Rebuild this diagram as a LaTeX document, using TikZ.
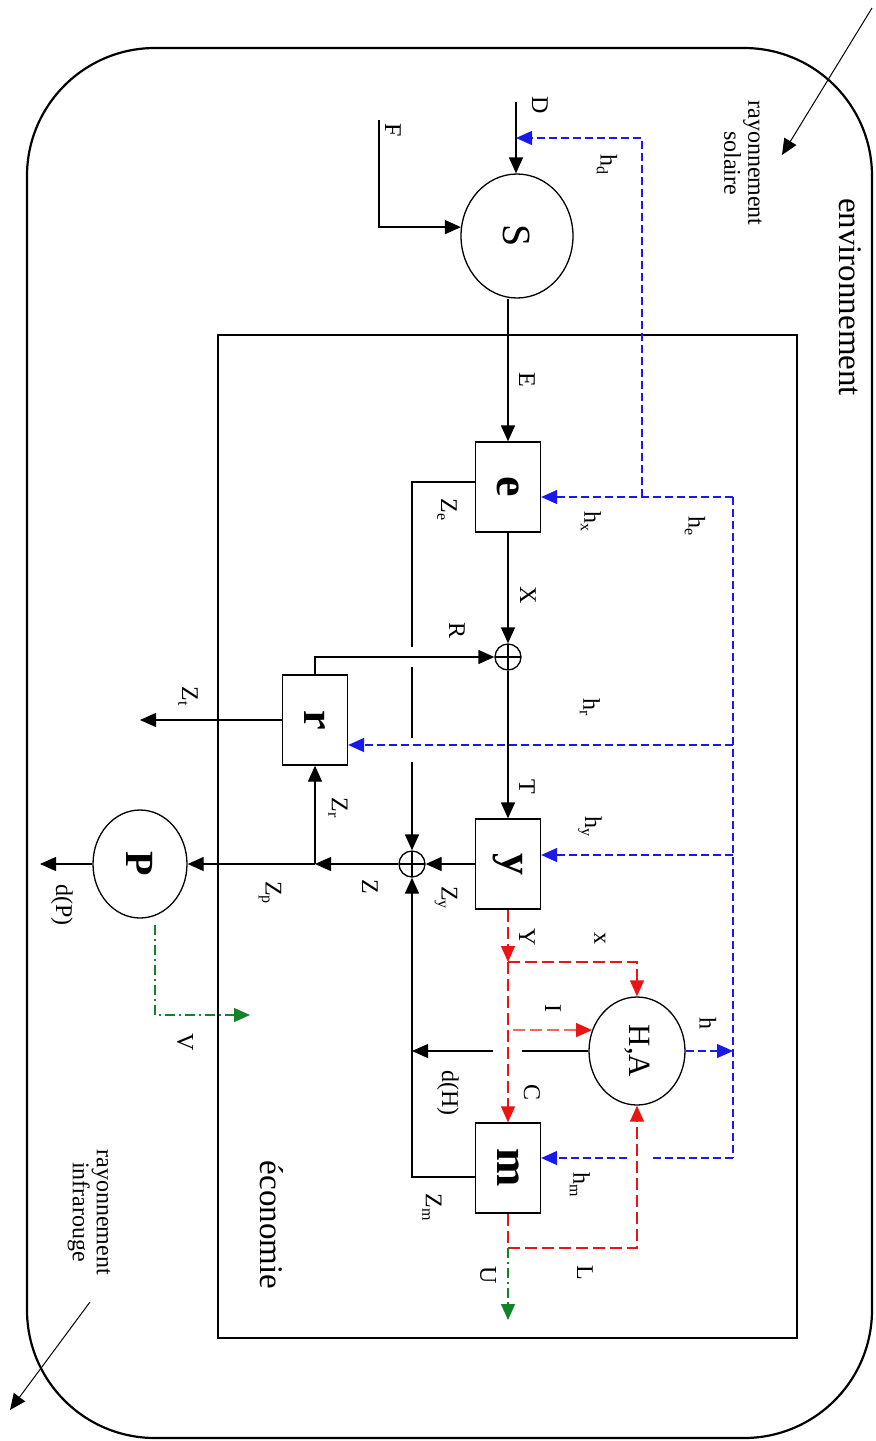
\documentclass[tikz,border=0pt]{standalone}
\usepackage{fontspec}
\setmainfont{Liberation Serif}
\usetikzlibrary{arrows.meta,shapes.geometric,calc}
\definecolor{fbblue}{RGB}{25,25,235}
\definecolor{fbred}{RGB}{235,20,20}
\definecolor{fbgreen}{RGB}{20,130,40}
\begin{document}
\begin{tikzpicture}[x=0.5pt,y=-0.5pt,
 tip/.style={-{Triangle[length=8pt,width=7pt]}},
 plain/.style={line width=0.65pt, black},
 flow/.style={plain, tip},
 fb/.style={fbblue, line width=0.65pt, dash pattern=on 4pt off 2pt},
 fbarr/.style={fb, tip},
 rd/.style={fbred, line width=0.65pt, dash pattern=on 6pt off 2.5pt},
 rdarr/.style={rd, tip},
 gr/.style={fbgreen, line width=0.65pt, dash pattern=on 5pt off 2pt on 1pt off 2pt},
 grarr/.style={gr, tip},
 box/.style={draw, line width=0.65pt, minimum width=32.5pt, minimum height=45pt, inner sep=0pt},
 circ/.style={draw, ellipse, line width=0.65pt, inner sep=0pt},
 sum/.style={draw, circle, line width=0.65pt, minimum size=13pt, inner sep=0pt,
   path picture={\draw[line width=0.65pt] (path picture bounding box.north) -- (path picture bounding box.south)
     (path picture bounding box.west) -- (path picture bounding box.east);}},
 lbl/.style={rotate=-90, font=\fontsize{12}{13}\selectfont, inner sep=0pt},
 title/.style={rotate=-90, font=\fontsize{16.5}{18}\selectfont, inner sep=0pt},
 note/.style={rotate=-90, font=\fontsize{12}{12}\selectfont, align=center, inner sep=0pt},
]
\useasboundingbox (0,0) rectangle (875,1441);
% frames
\draw[line width=1.1pt, rounded corners=64pt] (27,48) rectangle (872,1438);
\draw[line width=0.8pt] (218,335) rectangle (797,1338);
% nodes
\node[circ, minimum width=56pt, minimum height=62pt] (S) at (517,236) {\rotatebox{-90}{\fontsize{20}{22}\selectfont S}};
\node[box] (e) at (508,487) {\rotatebox{-90}{\fontsize{23}{24}\selectfont\bfseries e}};
\node[sum] (s1) at (508,657) {};
\node[box] (r) at (315,720) {\rotatebox{-90}{\fontsize{22}{24}\selectfont\bfseries r}};
\node[box] (y) at (508,864) {\rotatebox{-90}{\fontsize{22}{24}\selectfont\bfseries y}};
\node[sum] (s2) at (412,864) {};
\node[box] (m) at (508,1168) {\rotatebox{-90}{\fontsize{23}{24}\selectfont\bfseries m}};
\node[circ, minimum width=48pt, minimum height=54pt] (HA) at (637,1051) {\rotatebox{-90}{\fontsize{15.5}{17}\selectfont H,A}};
\node[circ, minimum width=47pt, minimum height=54pt] (P) at (140,864) {\rotatebox{-90}{\fontsize{20}{22}\selectfont\bfseries P}};
% coordinates
\coordinate (Dtop) at (516,102);
\coordinate (Dm) at (516,138);
\coordinate (Ftop) at (379,120);
\coordinate (hdc) at (642,497);
\coordinate (bt) at (733,497);
\coordinate (br) at (733,745);
\coordinate (by) at (733,855);
\coordinate (bb) at (733,1158);
\coordinate (hmg1) at (650,1158);
\coordinate (hmg2) at (627,1158);
\coordinate (ze0) at (476,482);
\coordinate (zeg1) at (412,647);
\coordinate (zeg2) at (412,667);
\coordinate (zeg3) at (412,738);
\coordinate (zeg4) at (412,762);
\coordinate (zt) at (140,720);
\coordinate (zj) at (315,864);
\coordinate (dp) at (40,864);
\coordinate (zm0) at (476,1177);
\coordinate (dhg1) at (522,1051);
\coordinate (dhg2) at (493,1051);
\coordinate (dh) at (412,1051);
\coordinate (yj) at (508,962);
\coordinate (I0) at (513,1030);
\coordinate (lj) at (508,1248);
\coordinate (uend) at (508,1320);
\coordinate (V0) at (155,925);
\coordinate (Vend) at (250,1015);
\coordinate (sol0) at (872,8);
\coordinate (sol1) at (782,155);
\coordinate (ir0) at (90,1302);
\coordinate (ir1) at (10,1410);
% black flows
\draw[flow] (Dtop) -- (Dtop |- S.north);
\draw[flow] (Ftop) |- (S.171);
\draw[flow] (S.south -| e.north) -- (e.north);
\draw[flow] (e.south) -- (s1.north);
\draw[flow] (r.north) |- (s1.west);
\draw[flow] (s1.south) -- (y.north);
\draw[plain] (ze0) -| (zeg1);
\draw[plain] (zeg2) -- (zeg3);
\draw[flow] (zeg4) -- (s2.north);
\draw[flow] (r.west) -- (zt);
\draw[flow] (y.west) -- (s2.east);
\draw[flow] (s2.west) -- (zj);
\draw[flow] (zj) -- (r.south);
\draw[flow] (zj) -- (P.east);
\draw[flow] (P.west) -- (dp);
\draw[flow] (zm0) -| (s2.south);
\draw[plain] (HA.west) -- (dhg1);
\draw[flow] (dhg2) -- (dh);
% blue feedback
\draw[fbarr] (hdc) |- (Dm);
\draw[fb] (bt) -- (bb);
\draw[fbarr] (bt) -- (bt -| e.east);
\draw[fbarr] (br) -- (br -| r.east);
\draw[fbarr] (by) -- (by -| y.east);
\draw[fb] (bb) -- (hmg1);
\draw[fbarr] (hmg2) -- (hmg2 -| m.east);
\draw[fbarr] (HA.east) -- (HA.east -| bt);
% red
\draw[rdarr] (y.south) -- (yj);
\draw[rdarr] (yj) -- (m.north);
\draw[rdarr] (yj) -| (HA.north);
\draw[rdarr] (I0) -- (HA.155);
\draw[rd] (m.south) -- (lj);
\draw[rdarr] (lj) -| (HA.south);
% green
\draw[grarr] (lj) -- (uend);
\draw[grarr] (V0) |- (Vend);
% radiation
\draw[line width=0.5pt, tip] (sol0) -- (sol1);
\draw[line width=0.5pt, tip] (ir0) -- (ir1);
% titles
\node[title] (tenv) at (850,297) {environnement};
\node[title] (teco) at (272,1225) {économie};
\node[note] (tsol) at (743,163) {rayonnement\\solaire};
\node[note] (tir) at (89,1212) {rayonnement\\infrarouge};
% labels
\node[lbl] at (540,105) {D};
\node[lbl] at (393,130) {F};
\node[lbl] at (607,165) {h\textsubscript{d}};
\node[lbl] at (527,380) {E};
\node[lbl] at (591,522) {h\textsubscript{x}};
\node[lbl] at (695,527) {h\textsubscript{e}};
\node[lbl] at (447,510) {Z\textsubscript{e}};
\node[lbl] at (528,595) {X};
\node[lbl] at (457,630) {R};
\node[lbl] at (590,708) {h\textsubscript{r}};
\node[lbl] at (188,697) {Z\textsubscript{t}};
\node[lbl] at (527,787) {T};
\node[lbl] at (590,827) {h\textsubscript{y}};
\node[lbl] at (338,808) {Z\textsubscript{r}};
\node[lbl] at (446,898) {Z\textsubscript{y}};
\node[lbl] at (370,887) {Z};
\node[lbl] at (270,893) {Z\textsubscript{p}};
\node[lbl] at (62,905) {d(P)};
\node[lbl] at (527,937) {Y};
\node[lbl] at (600,938) {x};
\node[lbl] at (553,1008) {I};
\node[lbl] at (708,1023) {h};
\node[lbl] at (532,1092) {C};
\node[lbl] at (448,1093) {d(H)};
\node[lbl] at (185,1042) {V};
\node[lbl] at (580,1185) {h\textsubscript{m}};
\node[lbl] at (432,1208) {Z\textsubscript{m}};
\node[lbl] at (488,1275) {U};
\node[lbl] at (585,1273) {L};
\end{tikzpicture}
\end{document}
